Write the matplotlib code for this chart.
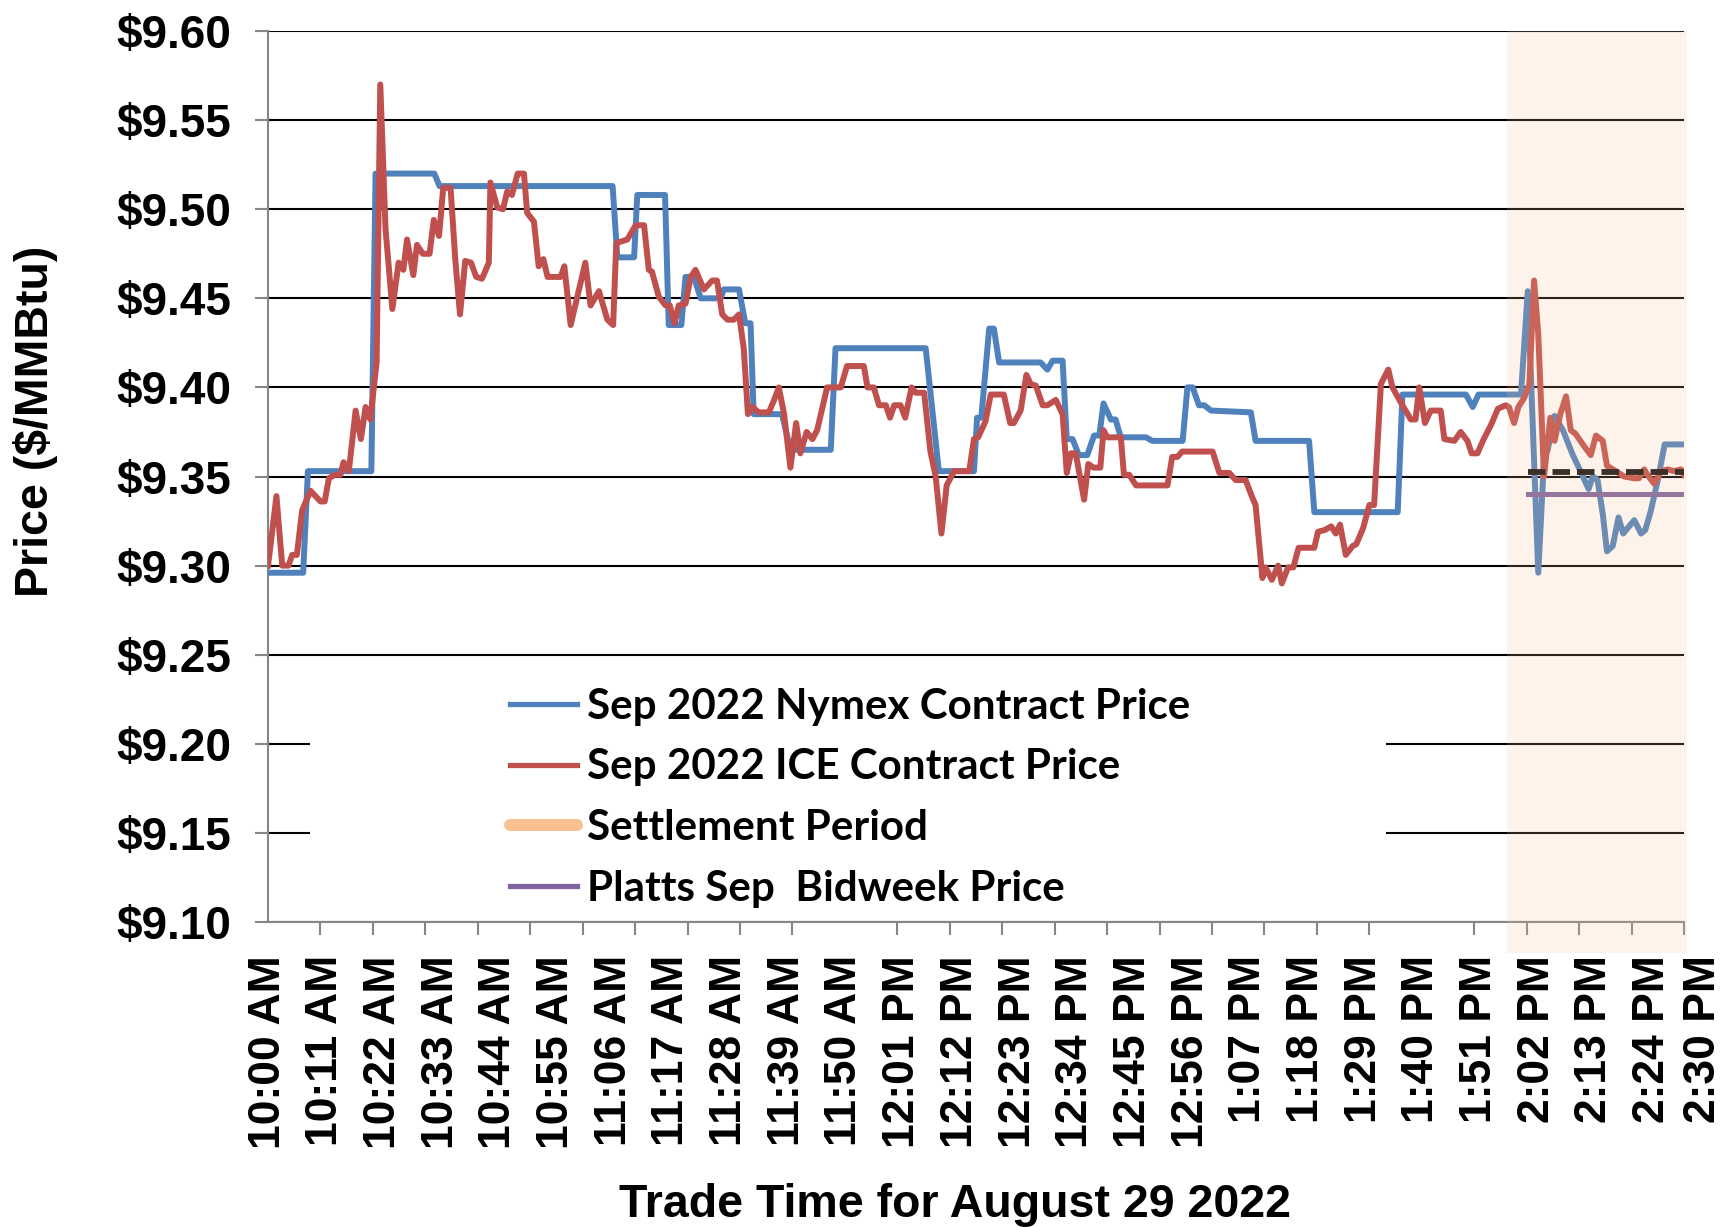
import matplotlib
matplotlib.use("Agg")
import matplotlib.pyplot as plt
import matplotlib.transforms as mtransforms
from matplotlib.patches import Rectangle
from matplotlib.lines import Line2D

# 字型設定
plt.rcParams['font.family'] = ['Liberation Sans', 'DejaVu Sans']
plt.rcParams['font.weight'] = 'bold'

# minutes after 10:00 AM
nymex_min = [0, 6.7, 7.6, 19.7, 20.5, 31.7, 32.7, 65.7, 66.6, 69.8, 70.4, 75.7, 76.4, 78.8,
             79.6, 81.2, 82.5, 86.3, 86.9, 89.8, 91.0, 92.0, 92.6, 98.0, 99.6, 107.3, 108.2,
             125.4, 127.9, 134.6, 135.2, 136.0, 137.5, 138.4, 139.4, 147.3, 148.6, 149.6,
             151.5, 152.3, 153.4, 154.6, 156.2, 157.5, 158.5, 159.3, 160.7, 161.6, 162.6,
             167.4, 168.6, 174.4, 175.3, 176.3, 177.5, 178.5, 179.8, 187.4, 188.3, 198.5,
             199.5, 215.4, 216.3, 228.4, 229.7, 230.8, 238.9, 240.2, 242.2, 243.3, 244.0,
             245.3, 246.9, 248.8, 250.4, 251.8, 252.6, 253.5, 254.5, 255.3, 256.4, 257.5,
             258.4, 260.5, 261.8, 262.6, 263.6, 265.0, 266.3, 270]
nymex_price = [9.296, 9.296, 9.353, 9.353, 9.520, 9.520, 9.513, 9.513, 9.473, 9.473, 9.508,
               9.508, 9.435, 9.435, 9.462, 9.462, 9.450, 9.450, 9.455, 9.455, 9.436, 9.436,
               9.385, 9.385, 9.365, 9.365, 9.422, 9.422, 9.353, 9.353, 9.383, 9.383, 9.433,
               9.433, 9.414, 9.414, 9.410, 9.415, 9.415, 9.371, 9.371, 9.362, 9.362, 9.373,
               9.373, 9.391, 9.382, 9.382, 9.372, 9.372, 9.370, 9.370, 9.400, 9.400, 9.390,
               9.390, 9.387, 9.386, 9.370, 9.370, 9.330, 9.330, 9.396, 9.396, 9.389, 9.396,
               9.396, 9.454, 9.296, 9.360, 9.365, 9.384, 9.376, 9.362, 9.352, 9.343, 9.350,
               9.348, 9.329, 9.308, 9.311, 9.327, 9.318, 9.3255, 9.318, 9.320, 9.330, 9.348,
               9.368, 9.368]

ice_min = [0, 1.6, 2.7, 3.9, 4.6, 5.5, 6.5, 8.1, 10.0, 10.8, 11.6, 12.8, 13.8, 14.4, 15.4,
           16.7, 17.7, 18.6, 19.5, 20.7, 21.4, 22.4, 23.7, 24.9, 25.8, 26.5, 27.7, 28.4, 29.5,
           30.8, 31.6, 32.6, 33.4, 34.8, 35.7, 36.6, 37.6, 38.7, 39.7, 40.8, 42.1, 42.4, 43.7,
           44.8, 45.6, 46.5, 47.6, 48.8, 49.4, 50.7, 51.6, 52.5, 53.3, 55.8, 56.5, 57.7, 60.5,
           61.5, 63.1, 64.7, 65.8, 66.4, 68.5, 70.1, 71.7, 72.6, 73.2, 74.5, 75.8, 76.6, 77.5,
           78.3, 79.6, 80.6, 81.5, 83.1, 84.7, 85.6, 86.6, 87.6, 88.8, 89.8, 90.7, 91.5, 92.3,
           93.6, 95.5, 96.5, 97.4, 98.4, 99.6, 100.7, 101.5, 102.7, 103.8, 104.7, 106.6, 109.2,
           110.4, 113.6, 114.3, 115.5, 116.5, 117.8, 118.6, 119.4, 120.6, 121.5, 122.7, 123.5,
           125.1, 126.3, 127.3, 128.4, 129.4, 130.8, 133.7, 134.6, 135.4, 136.8, 137.8, 140.3,
           141.5, 142.2, 143.5, 144.6, 145.4, 146.4, 147.7, 148.6, 150.2, 151.5, 152.3, 153.1,
           154.0, 155.6, 156.4, 157.4, 158.7, 159.3, 160.0, 162.6, 163.2, 164.2, 165.5, 171.5,
           172.4, 173.4, 174.3, 180.1, 181.4, 183.3, 184.5, 186.4, 187.7, 188.3, 189.6, 190.2,
           191.4, 192.6, 193.3, 194.5, 195.5, 196.5, 199.5, 200.2, 201.5, 202.7, 203.6, 204.4,
           205.5, 206.8, 207.5, 208.8, 210.0, 210.9, 212.2, 213.6, 214.4, 216.3, 217.9, 218.8,
           219.5, 220.6, 221.7, 223.6, 224.3, 226.2, 227.4, 228.7, 229.5, 230.6, 231.8, 233.2,
           234.5, 236.0, 236.6, 237.6, 238.4, 239.5, 240.5, 241.4, 242.2, 243.3, 244.5, 245.3,
           246.4, 247.5, 248.4, 249.3, 250.7, 252.2, 253.2, 254.5, 255.3, 257.0, 258.6, 260.5,
           261.4, 262.4, 263.0, 264.3, 265.6, 266.9, 268.1, 269.4, 270]
ice_price = [9.300, 9.339, 9.300, 9.300, 9.306, 9.306, 9.331, 9.342, 9.336, 9.336, 9.349,
             9.351, 9.351, 9.358, 9.353, 9.387, 9.371, 9.389, 9.382, 9.414, 9.570, 9.489,
             9.444, 9.470, 9.466, 9.483, 9.463, 9.480, 9.475, 9.475, 9.494, 9.485, 9.512,
             9.512, 9.472, 9.441, 9.471, 9.470, 9.462, 9.461, 9.470, 9.515, 9.501, 9.500,
             9.510, 9.508, 9.520, 9.520, 9.498, 9.493, 9.468, 9.472, 9.462, 9.462, 9.468,
             9.435, 9.470, 9.446, 9.454, 9.438, 9.435, 9.481, 9.483, 9.491, 9.491, 9.466,
             9.465, 9.451, 9.446, 9.446, 9.436, 9.446, 9.447, 9.462, 9.466, 9.455, 9.460,
             9.460, 9.441, 9.438, 9.438, 9.441, 9.422, 9.385, 9.389, 9.386, 9.386, 9.393,
             9.400, 9.385, 9.355, 9.380, 9.363, 9.375, 9.371, 9.376, 9.400, 9.400, 9.412,
             9.412, 9.400, 9.400, 9.390, 9.390, 9.383, 9.390, 9.390, 9.383, 9.400, 9.397,
             9.397, 9.364, 9.350, 9.318, 9.345, 9.353, 9.353, 9.371, 9.372, 9.381, 9.396,
             9.396, 9.380, 9.380, 9.387, 9.407, 9.402, 9.401, 9.390, 9.390, 9.393, 9.385,
             9.352, 9.363, 9.363, 9.337, 9.357, 9.355, 9.355, 9.376, 9.372, 9.372, 9.351,
             9.351, 9.345, 9.345, 9.361, 9.361, 9.364, 9.364, 9.352, 9.352, 9.348, 9.348,
             9.338, 9.334, 9.293, 9.299, 9.292, 9.300, 9.290, 9.299, 9.299, 9.310, 9.310,
             9.319, 9.320, 9.322, 9.318, 9.323, 9.306, 9.311, 9.312, 9.321, 9.334, 9.334,
             9.402, 9.410, 9.400, 9.390, 9.382, 9.382, 9.400, 9.380, 9.387, 9.387, 9.371,
             9.370, 9.375, 9.370, 9.363, 9.363, 9.371, 9.379, 9.388, 9.390, 9.389, 9.380,
             9.389, 9.394, 9.402, 9.460, 9.430, 9.350, 9.383, 9.370, 9.385, 9.395, 9.376,
             9.374, 9.368, 9.362, 9.373, 9.370, 9.356, 9.353, 9.350, 9.349, 9.349, 9.354,
             9.351, 9.346, 9.353, 9.354, 9.353, 9.354, 9.351]

settle_span = [236.2, 270.5]   # shaded settlement period
settle_line = [240.2, 270]
settle_price = 9.3525
platts_price = 9.34

label_min = [0, 11, 22, 33, 44, 55, 66, 77, 88, 99, 110, 121, 132, 143, 154, 165, 176,
             187, 198, 209, 220, 231, 242, 253, 264]
label_text = ['10:00 AM', '10:11 AM', '10:22 AM', '10:33 AM', '10:44 AM', '10:55 AM',
              '11:06 AM', '11:17 AM', '11:28 AM', '11:39 AM', '11:50 AM', '12:01 PM',
              '12:12 PM', '12:23 PM', '12:34 PM', '12:45 PM', '12:56 PM', '1:07 PM',
              '1:18 PM', '1:29 PM', '1:40 PM', '1:51 PM', '2:02 PM', '2:13 PM', '2:24 PM']
last_label = (273.7, '2:30 PM')
y_ticks = [9.10, 9.15, 9.20, 9.25, 9.30, 9.35, 9.40, 9.45, 9.50, 9.55, 9.60]

fig = plt.figure(figsize=(17.26, 12.27), dpi=100)
ax = fig.add_axes([0.1553, 0.2486, 0.8204, 0.7261])

ax.plot(nymex_min, nymex_price, color='#4F81BD', lw=4.3, solid_joinstyle='round', zorder=3)
ax.plot(ice_min, ice_price, color='#C0504D', lw=4.3, solid_joinstyle='round', zorder=4)
ax.plot(settle_line, [settle_price] * 2, color='#111111', lw=4.2, dashes=(3.0, 1.2), zorder=5)
ax.plot(settle_line, [platts_price] * 2, color='#8064A2', lw=3.6, zorder=5)

# 結算區間 (畫在線上面, 半透明)
blend = mtransforms.blended_transform_factory(ax.transData, ax.transAxes)
ax.add_patch(Rectangle((settle_span[0], -0.035), settle_span[1] - settle_span[0], 1.035,
                       transform=blend, facecolor='#FAC090', alpha=0.18, lw=0,
                       zorder=6, clip_on=False))

# white box behind legend
ax.add_patch(Rectangle((0.0297, 0.0079), 0.760, 0.284, transform=ax.transAxes,
                       facecolor='white', edgecolor='none', zorder=1.5))

ax.set_xlim(0, 270)
ax.set_ylim(9.10, 9.60)
ax.set_yticks(y_ticks)
ax.set_yticklabels(['$%.2f' % v for v in y_ticks])
ax.tick_params(axis='y', labelsize=33, length=9.4, width=1.5, color='#868686', pad=17)

ax.set_xticks(label_min)
ax.set_xticklabels(label_text, rotation=90)
ax.set_xticks(range(0, 271, 10), minor=True)
ax.tick_params(axis='x', which='major', length=0, labelsize=32, pad=23.8)
ax.tick_params(axis='x', which='minor', length=9.4, width=1.5, color='#868686')
ax.text(last_label[0], -0.037, last_label[1], transform=blend, rotation=90, ha='center',
        va='top', fontsize=32, clip_on=False)

ax.yaxis.grid(True, color='black', lw=1.5)
ax.set_axisbelow(True)
for s in ['top', 'right']:
    ax.spines[s].set_visible(False)
for s in ['left', 'bottom']:
    ax.spines[s].set_color('#868686')
    ax.spines[s].set_linewidth(1.5)

fig.text(36 / 1726, 1 - 421 / 1227, 'Price ($/MMBtu)', rotation=90, ha='center',
         va='center', fontsize=33.5)
fig.text(955 / 1726, 1 - 1217 / 1227, 'Trade Time for August 29 2022', ha='center',
         va='baseline', fontsize=33.5)

handles = [Line2D([], [], color='#4F81BD', lw=3.8),
           Line2D([], [], color='#C0504D', lw=3.8),
           Line2D([], [], color='#FAC090', lw=8.6, solid_capstyle='round'),
           Line2D([], [], color='#8064A2', lw=3.8)]
labels = ['Sep 2022 Nymex Contract Price', 'Sep 2022 ICE Contract Price',
          'Settlement Period', 'Platts Sep  Bidweek Price']
ax.legend(handles, labels, loc='upper left', bbox_to_anchor=(0.1709, 0.263),
          frameon=False, borderpad=0, borderaxespad=0, handlelength=1.6,
          handletextpad=0.22, labelspacing=0.54,
          prop={'family': 'Lato', 'weight': 'bold', 'size': 30.3})

fig.savefig('out.png', dpi=100)
